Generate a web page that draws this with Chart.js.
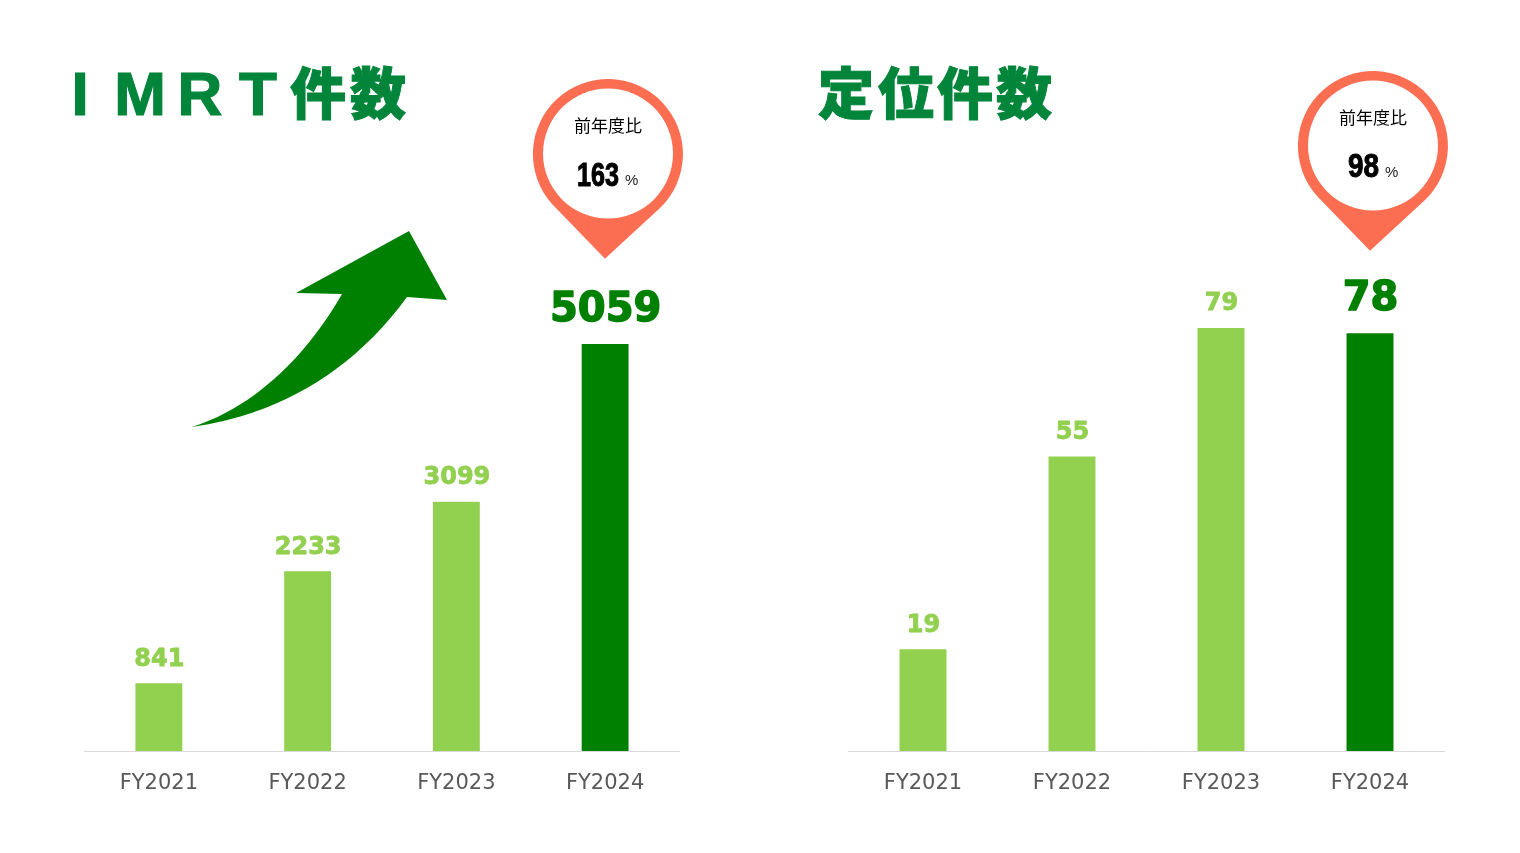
<!DOCTYPE html>
<html lang="ja">
<head>
<meta charset="utf-8">
<title>IMRT件数 / 定位件数</title>
<script src="https://cdn.jsdelivr.net/npm/chart.js@4/dist/chart.umd.min.js"></script>
<style>
  html, body { margin: 0; padding: 0; background: #fff; overflow: hidden; }
  #page { position: relative; width: 1520px; height: 853px; }
  canvas { position: absolute; top: 0; }
  #overlay { position: absolute; left: 0; top: 0; }
</style>
</head>
<body>
<div id="page">
  <canvas id="imrtChart" width="760" height="853" style="left:0"></canvas>
  <canvas id="teiiChart" width="760" height="853" style="left:760px"></canvas>
  <svg id="overlay" width="1520" height="853" xmlns="http://www.w3.org/2000/svg">
    <defs>
      <g id="pin">
        <path d="M1425 200 A75 75 0 1 0 1317 196 L1370 250.7 Z" fill="#fb6e52"/>
        <circle cx="1373" cy="145.5" r="65" fill="#fff"/>
      </g>
    </defs>
    <!-- titles -->
    <g fill="#00853a" stroke="#00853a" stroke-width="1.2" font-family="'Liberation Sans', sans-serif" font-weight="700" font-size="62" text-anchor="middle">
      <text x="80" y="115">I</text>
      <text x="140" y="115">M</text>
      <text x="200" y="115">R</text>
      <text x="258" y="115">T</text>
    </g>
    <g fill="#00853a" stroke="#00853a" stroke-width="1" font-family="'Noto Sans CJK JP', sans-serif" font-weight="900" font-size="56" text-anchor="middle">
      <text x="318" y="114">件</text>
      <text x="378" y="114">数</text>
      <text x="846" y="114">定</text>
      <text x="906" y="114">位</text>
      <text x="965" y="114">件</text>
      <text x="1024" y="114">数</text>
    </g>
    <path d="M192 427 C260 405 310 350 342 294 L296 293 L409 231 L447 300 L407 297 C350 375 275 415 192 427 Z" fill="#008000"/>
    <use href="#pin" x="-765" y="8"/>
    <use href="#pin"/>
    <g font-family="'Noto Sans CJK JP', sans-serif" font-size="17" fill="#000" text-anchor="middle">
      <text x="608" y="132">前年度比</text>
      <text x="1373" y="124">前年度比</text>
    </g>
    <g font-family="'Liberation Sans', sans-serif" font-weight="700" font-size="33" fill="#000" stroke="#000" stroke-width="1">
      <text x="577" y="186" textLength="42" lengthAdjust="spacingAndGlyphs">163</text>
      <text x="1348" y="177" textLength="31" lengthAdjust="spacingAndGlyphs">98</text>
    </g>
    <g font-family="'Liberation Sans', sans-serif" font-size="15" fill="#222">
      <text x="625" y="185">%</text>
      <text x="1385" y="177">%</text>
    </g>
  </svg>
</div>
<script>
const fiscalYears = ['FY2021', 'FY2022', 'FY2023', 'FY2024'];
const imrtCounts = [841, 2233, 3099, 5059];
const teiiCounts = [19, 55, 79, 78];

const lightGreen = '#92d050';
const darkGreen = '#008000';
const lastIndex = fiscalYears.length - 1;

// value labels above the bars, the latest year is bigger and darker
const barLabels = {
  id: 'barLabels',
  afterDatasetsDraw(chart) {
    const ctx = chart.ctx;
    const values = chart.data.datasets[0].data;
    ctx.save();
    ctx.textAlign = 'center';
    ctx.textBaseline = 'alphabetic';
    ctx.lineJoin = 'round';
    chart.getDatasetMeta(0).data.forEach((bar, i) => {
      const latest = i === lastIndex;
      const y = bar.y - (latest ? 23 : 17.5);
      ctx.font = `bold ${latest ? 40 : 24}px "DejaVu Sans"`;
      ctx.fillStyle = latest ? darkGreen : lightGreen;
      ctx.strokeStyle = ctx.fillStyle;
      ctx.lineWidth = latest ? 1.4 : 0.8;
      ctx.fillText(values[i], bar.x + 0.5, y);
      ctx.strokeText(values[i], bar.x + 0.5, y);
    });
    ctx.restore();
  }
};

function drawBars(canvasId, values, yMax, padding) {
  new Chart(document.getElementById(canvasId), {
    type: 'bar',
    data: {
      labels: fiscalYears,
      datasets: [{
        data: values,
        backgroundColor: values.map((v, i) => i === lastIndex ? darkGreen : lightGreen),
        categoryPercentage: 1,
        barPercentage: 0.315
      }]
    },
    options: {
      responsive: false,
      animation: false,
      layout: { padding },
      plugins: { legend: { display: false }, tooltip: { enabled: false } },
      scales: {
        x: {
          afterFit: scale => { scale.height = 60; },
          grid: { display: false, drawTicks: false },
          border: { color: '#d9d9d9', width: 1 },
          ticks: { color: '#595959', padding: 20, font: { family: 'DejaVu Sans', size: 21 }, maxRotation: 0 }
        },
        y: { display: false, min: 0, max: yMax }
      }
    },
    plugins: [barLabels]
  });
}

drawBars('imrtChart', imrtCounts, 6000, { left: 84.5, right: 80.5, top: 268.3, bottom: 42 });
drawBars('teiiChart', teiiCounts, 100, { left: 88.5, right: 75.5, top: 215.5, bottom: 42 });
</script>
</body>
</html>
